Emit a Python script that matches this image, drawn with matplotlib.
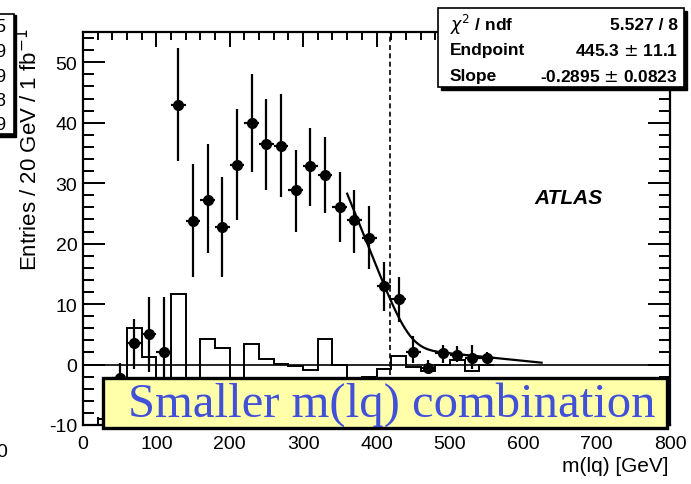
import matplotlib
matplotlib.use("Agg")
import matplotlib.pyplot as plt
import numpy as np
from math import erf
from matplotlib.patches import Rectangle

# ---------------- data ----------------
point_x = [50, 70, 90, 110, 130, 150, 170, 190, 210, 230, 250, 270, 290, 310,
           330, 350, 370, 390, 410, 430, 450, 470, 490, 510, 530, 550]
point_y = [-2.3, 3.5, 5.1, 2.1, 42.9, 23.8, 27.2, 22.7, 33.0, 39.9, 36.4, 36.2,
           28.9, 32.8, 31.4, 26.1, 23.9, 21.0, 13.0, 10.8, 2.1, -0.6, 1.9, 1.5,
           1.1, 1.1]
point_hi = [0.3, 7.6, 11.2, 11.2, 52.3, 33.1, 36.4, 31.1, 42.2, 48.1, 44.0, 44.8,
            35.5, 39.1, 37.7, 31.9, 28.9, 26.3, 17.0, 14.5, 4.7, 0.7, 3.3, 3.0,
            3.2, 2.1]
point_lo = [-5.0, -0.7, -1.2, -7.0, 33.7, 14.5, 18.4, 14.4, 23.9, 31.8, 28.8, 27.7,
            22.0, 26.3, 25.0, 20.3, 18.4, 15.8, 8.8, 7.1, 0.2, -1.4, 0.2, 0.4,
            -0.8, 0.2]
bin_half_width = 10

hist_edges = list(range(20, 580, 20))
hist_vals = [-9, -4, 6.0, 1.2, -4, 11.7, -5, 4.2, 2.8, -3, 3.4, 0.9, 0.1, -0.3,
             -0.9, 4.2, -0.1, -4, -2.1, -0.7, 1.4, -0.4, -1.1, 0.0, 0.7, -1.1, 0.0]

# fit (edge: linear ramp smeared, plus small linear background)
fit_endpoint = 445.3
fit_endpoint_err = 11.1
fit_slope = -0.2895
fit_slope_err = 0.0823
fit_chi2 = 5.527
fit_ndf = 8
fit_sigma = 20.0
fit_bg_slope = -0.0123
fit_bg_zero = 650.0
fit_range = (360, 625)

true_endpoint = 418

x_ticks = [0, 100, 200, 300, 400, 500, 600, 700, 800]
y_ticks = [-10, 0, 10, 20, 30, 40, 50]

# ---------------- figure ----------------
W, H = 691, 485
fig = plt.figure(figsize=(W / 100, H / 100), dpi=100)
SANS = ["Liberation Sans", "DejaVu Sans"]
plt.rcParams["font.family"] = SANS
plt.rcParams["axes.unicode_minus"] = False

L, R, T, B = 83, 670, 33, 426
ax = fig.add_axes([L / W, 1 - B / H, (R - L) / W, (B - T) / H])
ax.set_xlim(0, 800)
ax.set_ylim(-10, 55)

# histogram
ax.stairs(hist_vals, hist_edges, color="black", lw=1.4, baseline=None, zorder=2)

# zero line
ax.axhline(0, color="black", lw=1.2, zorder=1)

# dashed endpoint line
ax.axvline(true_endpoint, color="black", lw=1.2, ls=(0, (3, 2)), zorder=2)

# fit curve
def fit_func(x):
    d = fit_endpoint - x
    t = d / fit_sigma
    Phi = 0.5 * (1 + np.array([erf(v / np.sqrt(2)) for v in t]))
    phi = np.exp(-0.5 * t ** 2) / np.sqrt(2 * np.pi)
    ramp = -fit_slope * (d * Phi + fit_sigma * phi)
    bg = fit_bg_slope * (x - fit_bg_zero)
    return ramp + bg

xf = np.linspace(fit_range[0], fit_range[1], 300)
ax.plot(xf, fit_func(xf), color="black", lw=1.6, zorder=3)

# data points
py = np.array(point_y)
yerr = [py - np.array(point_lo), np.array(point_hi) - py]
ax.errorbar(point_x, point_y, yerr=yerr, xerr=bin_half_width, fmt="o",
            color="black", ms=7, elinewidth=1.6, capsize=0, zorder=4)

# ticks
ax.set_xticks(x_ticks)
ax.set_yticks(y_ticks)
ax.set_xticks(np.arange(0, 801, 20), minor=True)
ax.set_yticks(np.arange(-10, 56, 2), minor=True)
ax.tick_params(axis="both", which="both", direction="in", width=1.4,
               labelsize=14, top=True, right=True)
ax.tick_params(axis="y", which="major", length=16, pad=4)
ax.tick_params(axis="y", which="minor", length=8)
ax.tick_params(axis="x", which="major", length=11, pad=7)
ax.tick_params(axis="x", which="minor", length=6)
for s in ax.spines.values():
    s.set_linewidth(1.6)

# labels
fig.text(30 / W, 1 - 28 / H, "Entries / 20 GeV / 1 fb$^{-1}$", rotation=90,
         ha="center", va="top", fontsize=16)
fig.text(668 / W, 1 - 467 / H, "m(lq) [GeV]", ha="right", va="center",
         fontsize=15)

# ATLAS
fig.text(568 / W, 1 - 199 / H, "ATLAS", ha="center", va="center", fontsize=15,
         fontweight="bold", fontstyle="italic")

# stats box (with shadow)
bx0, by0, bx1, by1 = 438, 9, 684, 88
fig.patches.append(Rectangle(((bx0 + 3) / W, 1 - (by1 + 3) / H),
                             (bx1 - bx0) / W, (by1 - by0) / H,
                             transform=fig.transFigure, facecolor="black",
                             edgecolor="black", zorder=10))
fig.patches.append(Rectangle((bx0 / W, 1 - by1 / H), (bx1 - bx0) / W,
                             (by1 - by0) / H, transform=fig.transFigure,
                             facecolor="white", edgecolor="black", lw=1.2,
                             zorder=11))
rows = [("$\\chi^{2}$ / ndf", f"{fit_chi2} / {fit_ndf}"),
        ("Endpoint", f"{fit_endpoint} $\\pm$ {fit_endpoint_err}"),
        ("Slope", f"{fit_slope} $\\pm$ {fit_slope_err}")]
for i, (k, v) in enumerate(rows):
    yy = 1 - (25 + 26 * i) / H
    fig.text(450 / W, yy, k, ha="left", va="center", fontsize=12.5,
             fontweight="bold", zorder=12)
    fig.text(678 / W, yy, v, ha="right", va="center", fontsize=12.5,
             fontweight="bold", zorder=12)

# partial box at top-left (neighbouring panel)
fig.patches.append(Rectangle((-20 / W, 1 - 138 / H), 36 / W, 122 / H,
                             transform=fig.transFigure, facecolor="black",
                             edgecolor="black", zorder=10))
fig.patches.append(Rectangle((-20 / W, 1 - 135 / H), 34 / W, 120 / H,
                             transform=fig.transFigure, facecolor="white",
                             edgecolor="black", lw=1.2, zorder=11))
for i, d in enumerate(["5", "9", "9", "8", "9"]):
    fig.text(5.5 / W, 1 - (28 + 24.5 * i) / H, d, ha="right", va="center",
             fontsize=13, zorder=12)
fig.text(7 / W, 1 - 453 / H, "0", ha="right", va="center", fontsize=14)

# yellow label box
fig.patches.append(Rectangle((103 / W, 1 - 429 / H), (667 - 103) / W,
                             (429 - 379) / H, transform=fig.transFigure,
                             facecolor="#FFFFAA", edgecolor="black", lw=2.4,
                             zorder=20))
fig.text(392 / W, 1 - 405 / H, "Smaller m(lq) combination", ha="center",
         va="center", fontsize=35, color="#4050D8",
         family=["Liberation Serif", "DejaVu Serif"], zorder=21)

fig.savefig("out.png", dpi=100)
